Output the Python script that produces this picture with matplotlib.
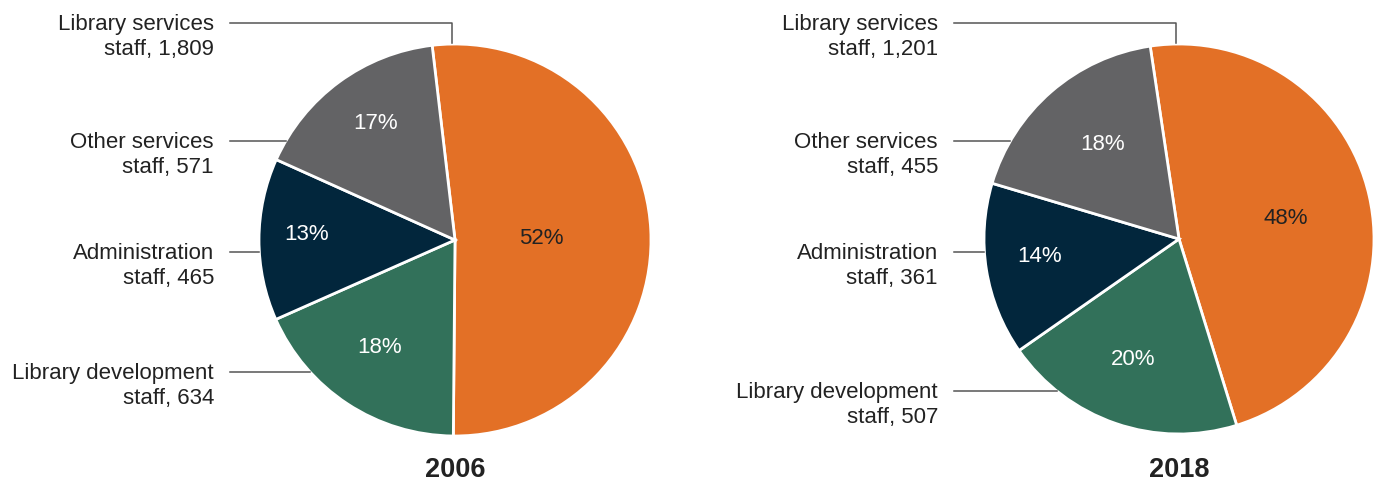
import numpy as np
import matplotlib.pyplot as plt

plt.rcParams['font.family'] = ['Liberation Sans', 'DejaVu Sans']

# staff counts by category (order drawn clockwise from the top)
categories = ['Library services', 'Library development', 'Administration', 'Other services']
staff_2006 = [1809, 634, 465, 571]
staff_2018 = [1201, 507, 361, 455]
years = ['2006', '2018']

colors = ['#E37026', '#32715A', '#02263C', '#636365']
pct_colors = ['#222222', 'white', 'white', 'white']

W, H = 1381, 482


def pct_round(vals):
    # largest remainder rounding so the shares add to 100
    v = np.array(vals, dtype=float)
    raw = 100 * v / v.sum()
    out = np.floor(raw).astype(int)
    rest = 100 - out.sum()
    order = np.argsort(-(raw - out))
    out[order[:rest]] += 1
    return out


fig = plt.figure(figsize=(W / 100, H / 100), dpi=100)
ax = fig.add_axes([0, 0, 1, 1])

# label rows (pixels from top) in category order
panels = [
    dict(vals=staff_2006, cx=455, cy=240, r=196, start=96.7, rows=[23, 372, 252, 141],
         dist=[0.44, 0.67, 0.76, 0.72]),
    dict(vals=staff_2018, cx=1179, cy=239, r=195, start=98.5, rows=[23, 391, 252, 141],
         dist=[0.56, 0.66, 0.72, 0.62]),
]

for p, year in zip(panels, years):
    cx, cy, r = p['cx'], H - p['cy'], p['r']
    wedges, _ = ax.pie(p['vals'], colors=colors, startangle=p['start'], counterclock=False,
                       center=(cx, cy), radius=r,
                       wedgeprops=dict(edgecolor='white', linewidth=2))
    pcts = pct_round(p['vals'])
    for w, pc, col, d in zip(wedges, pcts, pct_colors, p['dist']):
        mid = np.deg2rad((w.theta1 + w.theta2) / 2 - 2)
        ax.text(cx + d * r * np.cos(mid), cy + d * r * np.sin(mid), f'{pc}%',
                ha='center', va='center', color=col, fontsize=16)

    # category labels with leader lines
    tx = cx - 241
    lx = cx - 225
    for i, (name, v, row) in enumerate(zip(categories, p['vals'], p['rows'])):
        y = H - row
        ax.text(tx, y + 9, f'{name}\nstaff, {v:,}', ha='right', va='top',
                fontsize=16, color='#222222', linespacing=1.28)
        if i == 0:
            vx = cx - 3
            top = cy + np.sqrt(r ** 2 - 3 ** 2)
            ax.plot([lx, vx, vx], [y, y, top + 1], color='#555555', lw=1.1)
        else:
            dy = y - cy
            ex = cx - np.sqrt(r ** 2 - dy ** 2)
            ax.plot([lx, ex], [y, y], color='#555555', lw=1.1)

    ax.text(cx, H - 470, year, ha='center', va='center', fontsize=19.5,
            fontweight='bold', color='#222222')

ax.set_xlim(0, W)
ax.set_ylim(0, H)
ax.set_aspect('auto')
ax.axis('off')

fig.savefig('out.png', dpi=100)
